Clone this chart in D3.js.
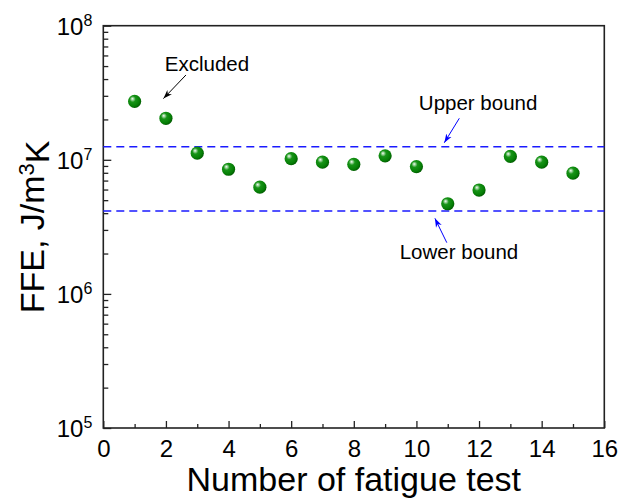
<!DOCTYPE html>
<html>
<head>
<meta charset="utf-8">
<script src="https://cdn.jsdelivr.net/npm/d3@7"></script>
<style>
  body { margin: 0; background: #fff; }
  text { font-family: Arial, "Liberation Sans", sans-serif; fill: #000; }
</style>
</head>
<body>
<script>
// fatigue test number and FFE values (J/m^3K)
var tests = [1, 2, 3, 4, 5, 6, 7, 8, 9, 10, 11, 12, 13, 14, 15];
var ffe = [2.73e7, 2.04e7, 1.12e7, 8.5e6, 6.25e6, 1.02e7, 9.6e6, 9.25e6, 1.07e7, 8.9e6, 4.7e6, 5.95e6, 1.06e7, 9.6e6, 7.95e6];

var upperBound = 1.25e7;
var lowerBound = 4.15e6;

var xTicks = [0, 2, 4, 6, 8, 10, 12, 14, 16];
var xMinor = [1, 3, 5, 7, 9, 11, 13, 15];
var yTicks = [1e5, 1e6, 1e7, 1e8];

// annotation text + arrow (data coords)
var notes = [
  {label: "Excluded", tx: 3.31, ty: 4.59e7, x1: 2.64, y1: 4.29e7, x2: 1.92, y2: 2.86e7, color: "#000"},
  {label: "Upper bound", tx: 11.97, ty: 2.35e7, x1: 11.37, y1: 2.04e7, x2: 10.89, y2: 1.34e7, color: "#0000ff"},
  {label: "Lower bound", tx: 11.36, ty: 1.82e6, x1: 10.97, y1: 2.41e6, x2: 10.59, y2: 3.66e6, color: "#0000ff"}
];

var W = 631, H = 500;
var margin = {top: 25.7, right: 26.7, bottom: 72, left: 103.3};
var w = W - margin.left - margin.right,
    h = H - margin.top - margin.bottom;

var svg = d3.select("body").append("svg")
  .attr("width", W).attr("height", H);

var defs = svg.append("defs");
var grad = defs.append("radialGradient")
  .attr("id", "ball")
  .attr("cx", "40%").attr("cy", "40%").attr("r", "65%")
  .attr("fx", "33%").attr("fy", "30%");
grad.append("stop").attr("offset", "0%").attr("stop-color", "#f4fff4");
grad.append("stop").attr("offset", "14%").attr("stop-color", "#9fd49f");
grad.append("stop").attr("offset", "35%").attr("stop-color", "#179417");
grad.append("stop").attr("offset", "75%").attr("stop-color", "#067f06");
grad.append("stop").attr("offset", "100%").attr("stop-color", "#005600");

["#000", "#0000ff"].forEach(function (c, i) {
  defs.append("marker")
    .attr("id", "arr" + i)
    .attr("viewBox", "0 0 10 10")
    .attr("refX", 10).attr("refY", 5)
    .attr("markerWidth", 9).attr("markerHeight", 9)
    .attr("markerUnits", "userSpaceOnUse")
    .attr("orient", "auto")
    .append("path")
    .attr("d", "M0,1.5 L10,5 L0,8.5 L3,5 Z")
    .attr("fill", c);
});

var g = svg.append("g").attr("transform", "translate(" + margin.left + "," + margin.top + ")");

var x = d3.scaleLinear().domain([0, 16]).range([0, w]);
var y = d3.scaleLog().domain([1e5, 1e8]).range([h, 0]);

// x axis: major + minor ticks pointing in
var xa = g.append("g").attr("transform", "translate(0," + h + ")")
  .call(d3.axisBottom(x).tickValues(xTicks).tickSizeInner(-7).tickSizeOuter(0).tickPadding(12).tickFormat(d3.format("d")));
xa.select(".domain").remove();
xa.selectAll("line").attr("stroke", "#222").attr("stroke-width", 1.3);
xa.selectAll("text").style("font-size", "24px").attr("dy", "0.71em");

var xm = g.append("g").attr("transform", "translate(0," + h + ")")
  .call(d3.axisBottom(x).tickValues(xMinor).tickSizeInner(-4).tickSizeOuter(0).tickFormat(""));
xm.select(".domain").remove();
xm.selectAll("line").attr("stroke", "#222").attr("stroke-width", 1.3);

// y axis: decades with superscript labels
var ya = g.append("g")
  .call(d3.axisLeft(y).tickValues(yTicks).tickSizeInner(-8).tickSizeOuter(0).tickPadding(17).tickFormat(""));
ya.select(".domain").remove();
ya.selectAll("line").attr("stroke", "#222").attr("stroke-width", 1.3);
ya.selectAll("text").each(function (d) {
  var t = d3.select(this).style("font-size", "24px").attr("dy", "0.35em");
  t.append("tspan").text("10");
  t.append("tspan").attr("dy", "-0.55em").style("font-size", "16px").text(Math.round(Math.log10(d)));
});
ya.selectAll("text").attr("x", -11);

var yMinor = [];
[1e5, 1e6, 1e7].forEach(function (p) {
  for (var k = 2; k <= 9; k++) yMinor.push(k * p);
});
var ym = g.append("g")
  .call(d3.axisLeft(y).tickValues(yMinor).tickSizeInner(-5).tickSizeOuter(0).tickFormat(""));
ym.select(".domain").remove();
ym.selectAll("line").attr("stroke", "#222").attr("stroke-width", 1.3);

// frame
g.append("rect")
  .attr("width", w).attr("height", h)
  .attr("fill", "none").attr("stroke", "#222").attr("stroke-width", 1.6);

// bounds
g.selectAll(".bound")
  .data([upperBound, lowerBound])
  .enter().append("line")
  .attr("class", "bound")
  .attr("x1", 0).attr("x2", w)
  .attr("y1", function (d) { return y(d); })
  .attr("y2", function (d) { return y(d); })
  .attr("stroke", "#1a1aff").attr("stroke-width", 1.5)
  .attr("stroke-dasharray", "8,5");

// points
var pts = tests.map(function (t, i) { return {x: t, y: ffe[i]}; });
g.selectAll(".pt")
  .data(pts)
  .enter().append("circle")
  .attr("class", "pt")
  .attr("cx", function (d) { return x(d.x); })
  .attr("cy", function (d) { return y(d.y); })
  .attr("r", 6.6)
  .attr("fill", "url(#ball)");

// annotations
notes.forEach(function (n) {
  g.append("line")
    .attr("x1", x(n.x1)).attr("y1", y(n.y1))
    .attr("x2", x(n.x2)).attr("y2", y(n.y2))
    .attr("stroke", n.color).attr("stroke-width", 1)
    .attr("marker-end", "url(#arr" + (n.color === "#000" ? 0 : 1) + ")");
  g.append("text")
    .attr("x", x(n.tx)).attr("y", y(n.ty))
    .attr("text-anchor", "middle")
    .style("font-size", "20.5px")
    .text(n.label);
});

// axis titles
svg.append("text")
  .attr("x", margin.left + w / 2).attr("y", 491)
  .attr("text-anchor", "middle")
  .style("font-size", "34px")
  .text("Number of fatigue test");

var yt = svg.append("text")
  .attr("transform", "translate(44," + (margin.top + h / 2) + ") rotate(-90)")
  .attr("text-anchor", "middle")
  .style("font-size", "34px");
yt.append("tspan").text("FFE, J/m");
yt.append("tspan").attr("dy", "-0.45em").style("font-size", "22px").text("3");
yt.append("tspan").attr("dy", "0.45em").text("K");
</script>
</body>
</html>
